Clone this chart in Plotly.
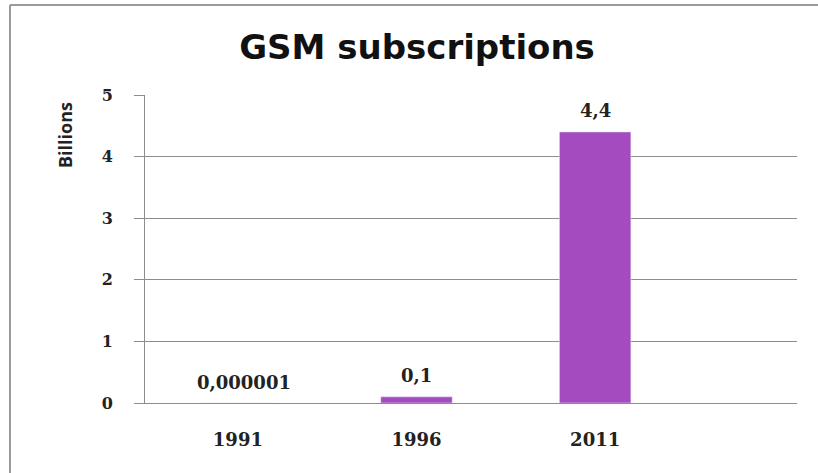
import plotly.graph_objects as go

years = ["1991", "1996", "2011"]
subscriptions = [0.000001, 0.1, 4.4]          # billions
value_labels = ["0,000001", "0,1", "4,4"]
y_ticks = [0, 1, 2, 3, 4, 5]

W, H = 818, 473
L, R, T, B = 145, 797, 95, 403   # plot area in pixels

BAR = "#a54bc0"
GRID = "#8c8c8c"
TXT = "#222222"
SERIF = "DejaVu Serif"

def px_x(p):
    return (p - L) / (R - L)

def px_y(p):
    return (B - p) / (B - T)

fig = go.Figure()
fig.add_trace(go.Bar(
    x=years, y=subscriptions, marker_color=BAR, width=0.4,
    hoverinfo="x+y", showlegend=False,
))

for i, (v, lab) in enumerate(zip(subscriptions, value_labels)):
    fig.add_annotation(
        x=i, y=v, text=lab, showarrow=False, yanchor="middle",
        yshift=21, xshift=6 if i == 0 else 0,
        font=dict(family=SERIF, size=18, color=TXT, weight="bold"),
    )

# y-axis label near the top of the axis
fig.add_annotation(
    xref="paper", yref="paper", x=px_x(65), y=px_y(135),
    text="Billions", textangle=-90, showarrow=False,
    xanchor="center", yanchor="middle",
    font=dict(family="Open Sans", size=18, color=TXT, weight="bold"),
)

# outer chart frame (left and top edges visible)
frame = dict(color="#9a9a9a", width=2)
fig.add_shape(type="line", xref="paper", yref="paper",
              x0=px_x(10), x1=px_x(10), y0=px_y(480), y1=px_y(5), line=frame)
fig.add_shape(type="line", xref="paper", yref="paper",
              x0=px_x(10), x1=px_x(830), y0=px_y(5), y1=px_y(5), line=frame)

fig.update_layout(
    width=W, height=H,
    margin=dict(l=L, r=W - R, t=T, b=H - B),
    paper_bgcolor="white", plot_bgcolor="white",
    title=dict(
        text="GSM subscriptions",
        x=px_x(417), xref="paper", xanchor="center",
        y=1 - 47 / H, yref="container", yanchor="middle",
        font=dict(family="DejaVu Sans", size=34, color="#111111", weight="bold"),
    ),
    xaxis=dict(
        type="category", range=[-0.52, 3.13],
        showline=True, linecolor=GRID, linewidth=1,
        showgrid=False, ticks="", ticklabelstandoff=20,
        tickfont=dict(family=SERIF, size=18, color=TXT, weight="bold"),
    ),
    yaxis=dict(
        range=[0, 5], tickvals=y_ticks, ticktext=[str(t) for t in y_ticks],
        showline=True, linecolor=GRID, linewidth=1,
        showgrid=True, gridcolor=GRID, gridwidth=1,
        ticks="outside", ticklen=10, tickcolor=GRID,
        ticklabelstandoff=18, zeroline=False,
        tickfont=dict(family=SERIF, size=16, color=TXT, weight="bold"),
    ),
)

fig.write_html("out.html", config={"displayModeBar": False},
               post_script="document.body.style.margin='0';")
